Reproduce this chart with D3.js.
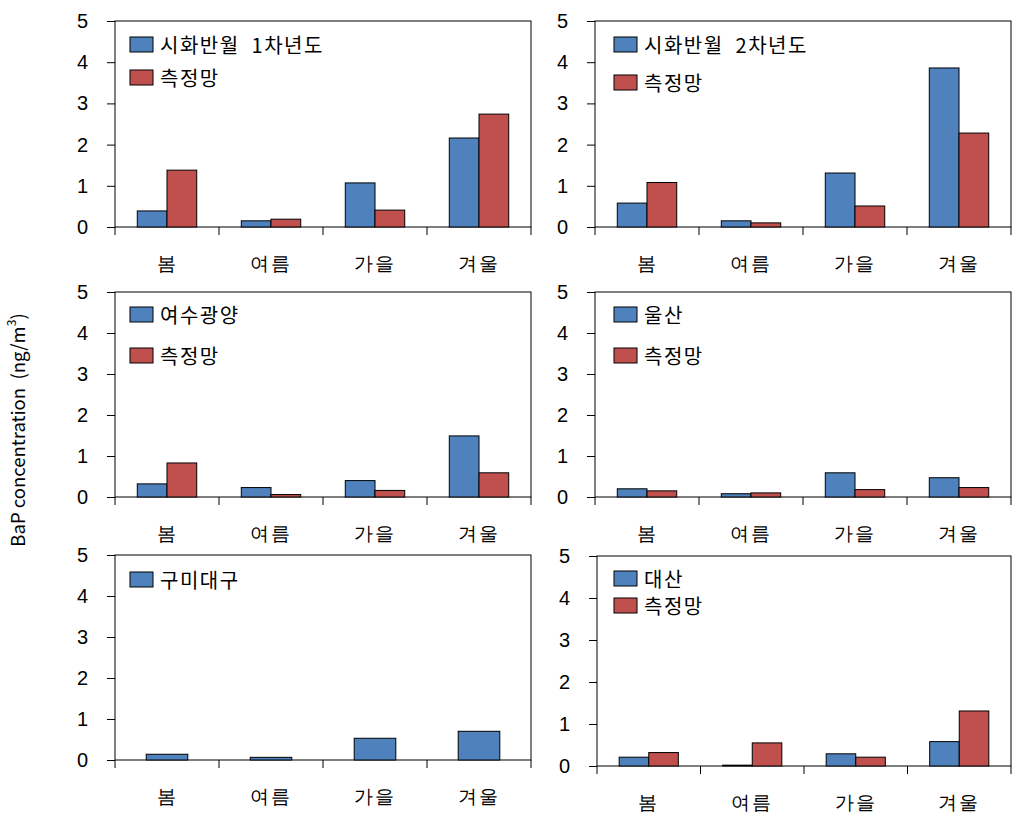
<!DOCTYPE html>
<meta charset="utf-8">
<head>
<style>
  body { margin: 0; background: white; }
  svg { display: block; font-family: "Noto Sans CJK KR", "Noto Sans", sans-serif; }
  .axis text { font-size: 20px; fill: #000; }
  .label { white-space: pre; }
</style>
<script src="https://cdn.jsdelivr.net/npm/d3@7"></script>
</head>
<body>
<svg id="chart"></svg>
<script>
// data
const seasons = ["봄", "여름", "가을", "겨울"]
const yTicks = [0, 1, 2, 3, 4, 5]

const sihwa1 = [0.39, 0.15, 1.07, 2.16]
const network1 = [1.38, 0.19, 0.41, 2.74]
const sihwa2 = [0.58, 0.15, 1.31, 3.86]
const network2 = [1.08, 0.10, 0.51, 2.28]
const yeosu = [0.32, 0.23, 0.40, 1.49]
const network3 = [0.83, 0.06, 0.16, 0.59]
const ulsan = [0.20, 0.08, 0.59, 0.47]
const network4 = [0.15, 0.10, 0.18, 0.23]
const gumi = [0.14, 0.065, 0.53, 0.70]
const daesan = [0.21, 0.02, 0.29, 0.58]
const network6 = [0.32, 0.55, 0.21, 1.31]

const panelSeries = [
  [{name: "시화반월  1차년도", values: sihwa1}, {name: "측정망", values: network1}],
  [{name: "시화반월  2차년도", values: sihwa2}, {name: "측정망", values: network2}],
  [{name: "여수광양", values: yeosu}, {name: "측정망", values: network3}],
  [{name: "울산", values: ulsan}, {name: "측정망", values: network4}],
  [{name: "구미대구", values: gumi}],
  [{name: "대산", values: daesan}, {name: "측정망", values: network6}]
]

// layout of each plot area and its legend
const layout = [
  {x0: 115, x1: 531, y0: 21, y1: 227, lx: 15, ly: [16, 49]},
  {x0: 595, x1: 1011, y0: 21, y1: 227, lx: 19, ly: [16, 54]},
  {x0: 115, x1: 531, y0: 292, y1: 497, lx: 15, ly: [15, 56]},
  {x0: 595, x1: 1011, y0: 292, y1: 497, lx: 19, ly: [15, 56]},
  {x0: 115, x1: 531, y0: 555, y1: 760, lx: 15, ly: [17]},
  {x0: 597, x1: 1011, y0: 556, y1: 766, lx: 17, ly: [15, 42]}
]

const colors = ["#4F81BD", "#C0504D"]

let svg = d3.select("#chart").attr("width", 1026).attr("height", 828)

function drawPanel(series, box) {
  let g = svg.append("g")

  let xScale = d3.scaleBand().domain(seasons).range([box.x0, box.x1]).padding(0)
  // Excel gap width 150%
  let xInner = d3.scaleBand().domain(series.map((s, i) => i))
    .range([0, xScale.bandwidth()]).paddingInner(0).paddingOuter(0.75)
  let yScale = d3.scaleLinear().domain([0, 5]).range([box.y1, box.y0])

  // plot frame
  g.append("rect")
    .attr("x", box.x0).attr("y", box.y0)
    .attr("width", box.x1 - box.x0).attr("height", box.y1 - box.y0)
    .attr("fill", "none").attr("stroke", "#000").attr("stroke-width", 1)

  // bars
  series.forEach((s, si) => {
    g.selectAll(".bar" + si)
      .data(s.values)
      .enter().append("rect")
      .attr("x", (d, i) => xScale(seasons[i]) + xInner(si))
      .attr("y", d => yScale(d))
      .attr("width", xInner.bandwidth())
      .attr("height", d => yScale(0) - yScale(d))
      .attr("fill", colors[si])
      .attr("stroke", "#000").attr("stroke-width", 1)
  })

  // y axis
  let axisY = d3.axisLeft(yScale).tickValues(yTicks).tickFormat(d3.format("d"))
    .tickSize(8).tickPadding(19)
  g.append("g").attr("class", "axis")
    .attr("transform", `translate(${box.x0},0)`)
    .call(axisY)
    .call(a => a.select(".domain").remove())

  // x axis: ticks on category boundaries, labels centred
  let axisX = d3.axisBottom(xScale).tickSize(0).tickPadding(0)
  let xa = g.append("g").attr("class", "axis")
    .attr("transform", `translate(0,${box.y1})`)
    .call(axisX)
  xa.select(".domain").remove()
  xa.selectAll("text").attr("dy", null).attr("y", 36)
    .attr("dominant-baseline", "central")
    .style("font-size", "19px").style("letter-spacing", "2px")
  let bounds = seasons.map(c => xScale(c)).concat([box.x1])
  xa.selectAll(".bound").data(bounds).enter().append("line")
    .attr("x1", d => d).attr("x2", d => d)
    .attr("y1", 0).attr("y2", 8)
    .attr("stroke", "#000")

  // legend
  series.forEach((s, si) => {
    let lx = box.x0 + box.lx
    let ly = box.y0 + box.ly[si]
    g.append("rect")
      .attr("x", lx).attr("y", ly).attr("width", 23).attr("height", 15)
      .attr("fill", colors[si]).attr("stroke", "#000")
    g.append("text").attr("class", "label")
      .attr("x", lx + 30).attr("y", ly + 7.5)
      .attr("dominant-baseline", "central")
      .style("font-size", "20px").style("letter-spacing", "1.5px")
      .text(s.name)
  })
}

panelSeries.forEach((s, i) => drawPanel(s, layout[i]))

// shared y title
let title = svg.append("text").attr("class", "label")
  .attr("transform", "translate(17,430) rotate(-90)")
  .attr("text-anchor", "middle")
  .attr("dominant-baseline", "central")
  .style("font-size", "18.5px")
title.append("tspan").text("BaP concentration  (ng/m")
title.append("tspan").attr("dy", -7).style("font-size", "12px").text("3")
title.append("tspan").attr("dy", 7).text(")")
</script>
</body>
